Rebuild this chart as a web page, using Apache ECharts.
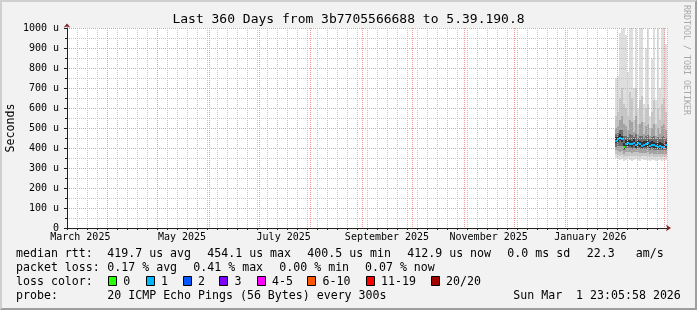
<!DOCTYPE html>
<html>
<head>
<meta charset="utf-8">
<script src="https://cdn.jsdelivr.net/npm/echarts@6/dist/echarts.min.js"></script>
<style>
html,body{margin:0;padding:0;background:#f2f2f2;}
#chart{position:absolute;left:0;top:0;width:697px;height:310px;}
#frame{position:absolute;left:0;top:0;width:697px;height:310px;box-sizing:border-box;
  border-top:2px solid #cfcfcf;border-left:2px solid #cfcfcf;border-right:2px solid #9e9e9e;border-bottom:2px solid #9e9e9e;pointer-events:none;}
</style>
</head>
<body>
<div id="chart"></div>
<div id="frame"></div>
<script>
// ---------------- data ----------------
const titleText = 'Last 360 Days from 3b7705566688 to 5.39.190.8';
const yAxisName = 'Seconds';
const rangeStartUTC = [2025, 2, 8];      // axis starts 8 Mar 2025
const rangeDays = 360;
const monthStarts = ['2025-04-01','2025-05-01','2025-06-01','2025-07-01','2025-08-01','2025-09-01',
                     '2025-10-01','2025-11-01','2025-12-01','2026-01-01','2026-02-01','2026-03-01'];
const monthLabels = ['March 2025','May 2025','July 2025','September 2025','November 2025','January 2026'];
const monthLabelDates = ['2025-03-16','2025-05-16','2025-07-16','2025-09-16','2025-11-16','2026-01-16'];
const yMax = 1000;      // micro-seconds
const yStep = 100;

// samples (day offset from axis start), width of one sample in days
const sampleWidth = 1.2;
const sampleDay = [328.8,330.0,331.2,332.4,333.6,334.8,336.0,337.2,338.4,339.6,340.8,342.0,343.2,
                   344.4,345.6,346.8,348.0,349.2,350.4,351.6,352.8,354.0,355.2,356.4,357.6,358.8];
const median  = [437,445,452,445,407,420,425,422,420,427,415,425,420,410,417,420,425,412,417,415,410,407,412,407,405,413];
const lossIdx = [1,1,1,1,0,1,1,1,1,1,1,1,1,1,1,1,1,1,1,1,1,1,1,1,1,1];
// smoke bands (outer -> inner), values in u
const smoke1Lo = [350,345,340,345,335,340,345,340,335,340,345,340,335,345,340,338,342,335,340,338,336,340,338,335,340,338];
const smoke1Hi = [750,760,975,995,1010,965,780,1010,1010,700,1010,600,1010,1010,620,900,1010,560,850,1010,640,1010,700,1010,1010,920];
const smoke2Lo = [370,365,360,365,355,360,362,360,358,360,362,360,356,362,360,358,360,355,358,356,355,358,356,354,358,356];
const smoke2Hi = [560,580,650,700,620,600,560,680,650,540,700,520,640,660,530,600,620,500,580,640,520,600,540,620,650,580];
const smoke3Lo = [390,385,380,385,372,378,380,378,376,378,378,378,374,376,376,376,378,372,374,372,370,372,372,370,372,372];
const smoke3Hi = [500,510,540,560,520,510,490,540,530,480,560,470,520,530,470,510,520,460,500,520,460,500,470,510,520,490];
const smoke4Lo = [405,410,410,410,392,398,400,398,396,398,396,398,394,394,396,396,398,392,394,392,390,390,392,390,390,392];
const smoke4Hi = [470,475,490,490,460,460,455,470,465,455,470,450,460,460,450,460,465,445,455,460,445,455,445,455,460,450];
const smoke5Lo = [425,432,440,432,395,408,412,408,406,414,402,412,407,398,404,406,412,400,404,402,398,395,400,395,393,400];
const smoke5Hi = [455,460,468,462,425,438,442,440,437,443,432,442,437,428,434,437,442,428,434,432,427,425,429,424,422,430];

const lossLabels = ['0','1','2','3','4-5','6-10','11-19','20/20'];
const lossColors = ['#26ff00','#00b8ff','#0059ff','#7e00ff','#ff00ff','#ff5500','#ff0000','#a10000'];

const legendRows = [
  {y:254, items:[['median rtt:',16],['419.7 us avg',107.3],['454.1 us max',207.3],['400.5 us min',307.3],
                 ['412.9 us now',407.3],['0.0 ms sd',507.3],['22.3',586.7],['am/s',635.7]]},
  {y:268, items:[['packet loss:',16],['0.17 % avg',107.3],['0.41 % max',193.3],['0.00 % min',279.3],['0.07 % now',365]]},
  {y:296, items:[['probe:',16],['20 ICMP Echo Pings (56 Bytes) every 300s',107.3],['Sun Mar  1 23:05:58 2026',513.3]]}
];
const lossLegendY = 282;
const lossLegendBoxX = [108,145.7,182.7,219.3,256.7,307.3,365.7,430.7];
const credit = 'RRDTOOL / TOBI OETIKER';

// ---------------- helpers ----------------
const DAY = 86400000;
const startMs = Date.UTC(rangeStartUTC[0], rangeStartUTC[1], rangeStartUTC[2]);
function dayOf(iso){ const p = iso.split('-').map(Number); return (Date.UTC(p[0], p[1]-1, p[2]) - startMs) / DAY; }
const monthDays = monthStarts.map(dayOf);
const labelDays = monthLabelDates.map(dayOf);
const minorDays = []; for (let d = 0; d <= rangeDays; d += 6) minorDays.push(d);

const MONO = 'DejaVu Sans Mono';
const smokeColors = ['#dedede','#c6c6c6','#a2a2a2','#6e6e6e','#333333'];
const smokeLo = [smoke1Lo, smoke2Lo, smoke3Lo, smoke4Lo, smoke5Lo];
const smokeHi = [smoke1Hi, smoke2Hi, smoke3Hi, smoke4Hi, smoke5Hi];
const smokeData = sampleDay.map((d,i) => {
  const row = [d, d + sampleWidth];
  for (let k = 0; k < smokeLo.length; k++) row.push(smokeLo[k][i], smokeHi[k][i]);
  return row;
});
const medianData = sampleDay.map((d,i) => [d, d + sampleWidth, median[i], lossIdx[i]]);

function renderSmoke(params, api) {
  const d0 = api.value(0), d1 = api.value(1);
  const kids = [];
  for (let k = 0; k < smokeColors.length; k++) {
    const lo = api.value(2 + 2*k), hi = api.value(3 + 2*k);
    const a = api.coord([d0, hi]), b = api.coord([d1, lo]);
    const x0 = Math.round(a[0]), x1 = Math.round(b[0]);
    const y0 = Math.round(a[1]), y1 = Math.round(b[1]);
    kids.push({type:'rect', shape:{x:x0, y:y0, width:x1-x0, height:y1-y0}, style:{fill:smokeColors[k]}});
  }
  return {type:'group', children:kids};
}
function renderMedian(params, api) {
  const a = api.coord([api.value(0), api.value(2)]);
  const b = api.coord([api.value(1), api.value(2)]);
  const x0 = Math.round(a[0]), x1 = Math.round(b[0]);
  const yc = Math.round(a[1]);
  return {type:'rect', shape:{x:x0, y:yc-1, width:x1-x0, height:2}, style:{fill:lossColors[api.value(3)]}};
}
// month grid: vertical dotted red lines drawn through the x scale, snapped to whole pixels
function renderMonthLine(params, api) {
  const top = api.coord([api.value(0), yMax]);
  const bot = api.coord([api.value(0), 0]);
  const x = Math.round(top[0]) + 0.5;
  return {type:'line', shape:{x1:x, y1:top[1], x2:x, y2:bot[1]},
          style:{stroke:majorGrid, lineWidth:1, lineDash:[1,1]}};
}

// ---------------- chart ----------------
const chart = echarts.init(document.getElementById('chart'), null, {renderer:'canvas'});
const graphics = [];
graphics.push({type:'text', x:348.5, y:19.5, style:{text:titleText, font:'13px "'+MONO+'"', fill:'#000', align:'center', verticalAlign:'middle'}});
graphics.push({type:'text', x:686, y:60, rotation:-Math.PI/2, style:{text:credit, font:'8.3px "'+MONO+'"', fill:'#a8a8a8', align:'center', verticalAlign:'middle'}});
legendRows.forEach(r => r.items.forEach(it => {
  graphics.push({type:'text', x:it[1], y:r.y, style:{text:it[0], font:'11.6px "'+MONO+'"', fill:'#000', align:'left', verticalAlign:'middle'}});
}));
graphics.push({type:'text', x:16, y:lossLegendY, style:{text:'loss color:', font:'11.6px "'+MONO+'"', fill:'#000', align:'left', verticalAlign:'middle'}});
lossLabels.forEach((lab, i) => {
  const bx = lossLegendBoxX[i];
  graphics.push({type:'rect', shape:{x:Math.round(bx)+0.5, y:lossLegendY-5.5, width:8, height:9}, style:{fill:lossColors[i], stroke:'#000', lineWidth:1}});
  graphics.push({type:'text', x:bx+15.3, y:lossLegendY, style:{text:lab, font:'11.6px "'+MONO+'"', fill:'#000', align:'left', verticalAlign:'middle'}});
});

var majorGrid = '#ec9a9a';
var minorGrid = '#c4c4c4';
const dotted = (c) => ({color:c, width:1, type:[1,1]});
const labelFont = {fontFamily:MONO, fontSize:10, color:'#000'};

chart.setOption({
  animation:false,
  backgroundColor:'#f2f2f2',
  grid:{left:67, top:28, width:600, height:200, show:true, backgroundColor:'#ffffff', borderWidth:0,
        containLabel:false, outerBoundsMode:'none'},
  xAxis:[
    {type:'value', min:0, max:rangeDays, position:'bottom', z:6,
     axisLine:{show:true, onZero:false, lineStyle:{color:'#1f1f1f', width:1}},
     axisTick:{show:true, customValues:minorDays, length:2, lineStyle:{color:'#1f1f1f'}},
     axisLabel:{show:true, customValues:labelDays, margin:4, ...labelFont,
       formatter:(v)=>{ const i = labelDays.findIndex(d=>Math.abs(d-v)<1e-6); return i>=0?monthLabels[i]:''; }},
     splitLine:{show:false}},
    {type:'value', min:0, max:rangeDays, interval:6, position:'bottom', z:4,
     axisLine:{show:false}, axisTick:{show:false}, axisLabel:{show:false},
     splitLine:{show:true, lineStyle:dotted(minorGrid)}},
    {type:'value', min:0, max:rangeDays, position:'bottom', z:6,
     axisLine:{show:true, onZero:false, symbol:['none','arrow'], symbolSize:[5,5], symbolOffset:[0,4],
               lineStyle:{color:'#801f1f', width:0}},
     axisTick:{show:false}, axisLabel:{show:false}, splitLine:{show:false}}
  ],
  yAxis:[
    {type:'value', min:0, max:yMax, interval:yStep, position:'left', z:4,
     name:yAxisName, nameLocation:'middle', nameGap:50, nameRotate:90, nameMoveOverlap:false,
     nameTextStyle:{fontFamily:MONO, fontSize:11.6, color:'#000'},
     axisLine:{show:true, onZero:false, lineStyle:{color:'#1f1f1f', width:1}},
     axisTick:{show:true, length:3, lineStyle:{color:'#1f1f1f'}},
     minorTick:{show:true, splitNumber:2, length:2, lineStyle:{color:'#1f1f1f'}},
     axisLabel:{margin:8, ...labelFont, formatter:(v)=> v===0 ? '0' : (v + ' u')},
     splitLine:{show:true, lineStyle:dotted(majorGrid)},
     minorSplitLine:{show:true, lineStyle:dotted(minorGrid)}},
    {type:'value', min:0, max:yMax, position:'left', z:6,
     axisLine:{show:true, onZero:false, symbol:['none','arrow'], symbolSize:[5,4], symbolOffset:[0,4.5],
               lineStyle:{color:'#801f1f', width:0}},
     axisTick:{show:false}, axisLabel:{show:false}, splitLine:{show:false}}
  ],
  series:[
    {type:'custom', name:'smoke', xAxisIndex:0, yAxisIndex:0, clip:true, silent:true,
     renderItem:renderSmoke, data:smokeData, encode:{x:[0,1], y:[2,3]}, z:2},
    {type:'custom', name:'median', xAxisIndex:0, yAxisIndex:0, clip:true, silent:true,
     renderItem:renderMedian, data:medianData, encode:{x:[0,1], y:[2]}, z:3},
    {type:'custom', name:'month grid', xAxisIndex:0, yAxisIndex:0, silent:true,
     renderItem:renderMonthLine, data:monthDays.map(d=>[d]), encode:{x:[0]}, z:5}
  ],
  graphic:graphics
});
</script>
</body>
</html>
